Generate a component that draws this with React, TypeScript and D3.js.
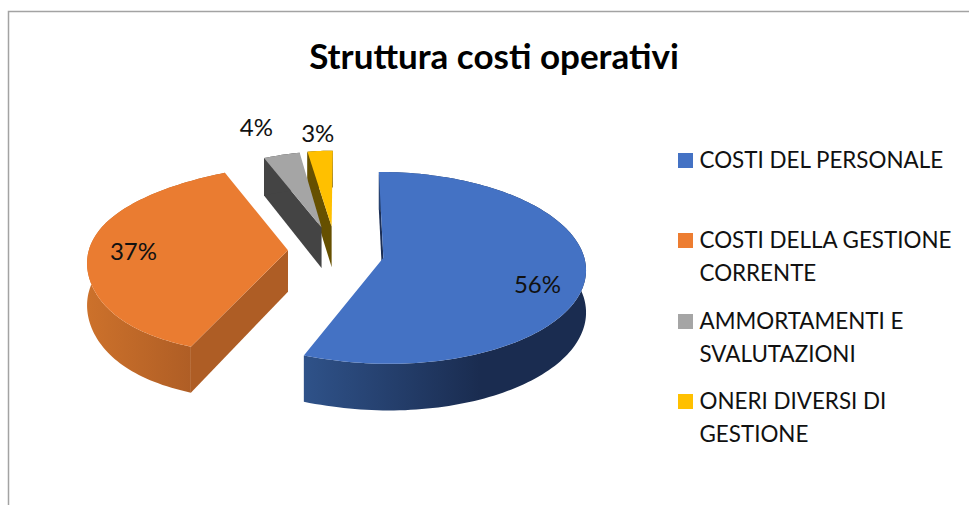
import React from "react";
import * as d3 from "d3";

const TITLE = "Struttura costi operativi";
const categories = ["COSTI DEL PERSONALE", "COSTI DELLA GESTIONE CORRENTE", "AMMORTAMENTI E SVALUTAZIONI", "ONERI DIVERSI DI GESTIONE"];
const legendLines = [["COSTI DEL PERSONALE"], ["COSTI DELLA GESTIONE", "CORRENTE"], ["AMMORTAMENTI E", "SVALUTAZIONI"], ["ONERI DIVERSI DI", "GESTIONE"]];
const values = [56, 37, 4, 3];
const colors = ["#4472C4", "#ED7D31", "#A5A5A5", "#FFC000"];
const faceColors = ["#4472C4", "#EA7C31", "#A5A5A5", "#FFC000"];
const edgeColors = ["#1B2E55", "#AE5D25", "#444444", "#665000"];

// layout of the projected pie
const CX = 336, CY = 253.5, SX = 200, SY = 94, K = 0.105, DEPTH = 41.5, EXPLODE = 0.24;
const LIFT = [0, -4, -5, -5];
const RADIUS = [1, 0.995, 0.93, 0.93];
const LABEL = [
  { r: 0.78, dx: -3, dy: 13 },
  { r: 0.76, dx: -2, dy: -1 },
  { r: 1.25, dx: -28, dy: -5 },
  { r: 1.25, dx: -4, dy: 6 },
];
const LEGEND_Y = [153, 233, 314, 394];

function project(u: number, v: number, z: number, lift: number): [number, number] {
  const denom = 1 + K * v;
  const skew = u < 0 ? -u * v * v * v * 21.8 : 0;
  return [CX + (SX * u) / denom + skew, CY + lift + (-SY * v + z * DEPTH) / denom];
}

const path = d3.line<[number, number]>();

export default function App() {
  const arcs = d3.pie<number>().sort(null).value((d) => d)(values);
  const slices = arcs.map((a, i) => {
    const mid = (a.startAngle + a.endAngle) / 2;
    const u0 = EXPLODE * Math.sin(mid);
    const v0 = EXPLODE * Math.cos(mid);
    const lift = LIFT[i];
    const R = RADIUS[i];
    const n = Math.max(6, Math.ceil((a.endAngle - a.startAngle) * 40));
    const angles = d3.range(n + 1).map((j) => a.startAngle + ((a.endAngle - a.startAngle) * j) / n);
    const rim = (z: number) => angles.map((t) => project(u0 + R * Math.sin(t), v0 + R * Math.cos(t), z, lift));
    const apex = (z: number) => project(u0, v0, z, lift);
    const top = path([apex(0), ...rim(0)])! + "Z";
    const outer = path([...rim(0), ...rim(1).reverse()])! + "Z";
    const startP = (z: number) => project(u0 + R * Math.sin(a.startAngle), v0 + R * Math.cos(a.startAngle), z, lift);
    const wallStart = path([apex(0), startP(0), startP(1), apex(1)])! + "Z";
    const L = LABEL[i];
    const [lx, ly] = project(u0 + L.r * Math.sin(mid), v0 + L.r * Math.cos(mid), 0, lift);
    return { i, top, outer, wallStart, lx: lx + L.dx, ly: ly + L.dy };
  });

  const font = "Lato, 'Open Sans', sans-serif";
  return (
    <svg width={969} height={505} viewBox="0 0 969 505" style={{ position: "absolute", left: 0, top: 0, background: "#fff" }} fontFamily={font}>
      <defs>
        <linearGradient id="g0" gradientUnits="userSpaceOnUse" x1={304} x2={480} y1={0} y2={0}>
          <stop offset="0" stopColor="#2F5289" />
          <stop offset="1" stopColor="#1A2C50" />
        </linearGradient>
        <linearGradient id="g1" gradientUnits="userSpaceOnUse" x1={88} x2={195} y1={0} y2={0}>
          <stop offset="0" stopColor="#CC712B" />
          <stop offset="1" stopColor="#AE5D25" />
        </linearGradient>
      </defs>
      <path d="M8.5 505V11.5H969" fill="none" stroke="#A3A3A3" strokeWidth={1.5} />
      <text x={494} y={69} textAnchor="middle" fontSize={35} fontWeight={700} fill="#000">{TITLE}</text>
      {[3, 2, 1, 0].map((k) => {
        const s = slices[k];
        return (
          <g key={categories[k]}>
            <path d={s.wallStart} fill={edgeColors[k]} />
            <path d={s.outer} fill={k < 2 ? `url(#g${k})` : edgeColors[k]} />
            <path d={s.top} fill={faceColors[k]} />
          </g>
        );
      })}
      {slices.map((s) => (
        <text key={s.i} x={s.lx} y={s.ly} dy="0.35em" textAnchor="middle" fontSize={24} fill="#111">{values[s.i]}%</text>
      ))}
      {legendLines.map((lines, i) => (
        <g key={categories[i]}>
          <rect x={678} y={LEGEND_Y[i]} width={15} height={15} fill={colors[i]} />
          {lines.map((t, j) => (
            <text key={t} x={699.5} y={LEGEND_Y[i] + 15 + j * 32.8} fontSize={22.4} fill="#111">{t}</text>
          ))}
        </g>
      ))}
    </svg>
  );
}
